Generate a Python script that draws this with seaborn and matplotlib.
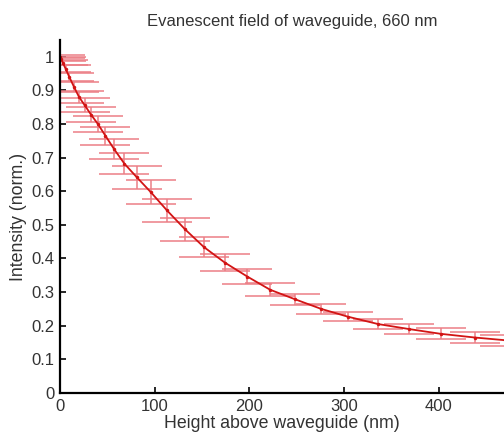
import matplotlib
matplotlib.use('Agg')
import matplotlib.pyplot as plt
import pandas as pd
import seaborn as sns

# Height above waveguide (nm), normalised intensity and error (half-width)
height = [0, 1, 3, 6, 10, 15, 20, 26, 33, 40, 48, 57, 68, 81, 96, 113, 132,
          152, 174, 198, 222, 248, 276, 304, 336, 369, 402, 438, 470]
intensity = [1.000, 0.994, 0.982, 0.964, 0.939, 0.909, 0.881, 0.856, 0.827,
             0.800, 0.765, 0.726, 0.682, 0.642, 0.597, 0.543, 0.487, 0.434,
             0.388, 0.346, 0.307, 0.279, 0.250, 0.227, 0.205, 0.190, 0.176,
             0.165, 0.157]
error = [0.005, 0.006, 0.008, 0.010, 0.012, 0.015, 0.018, 0.020, 0.022,
         0.025, 0.027, 0.030, 0.032, 0.034, 0.035, 0.035, 0.034, 0.030,
         0.026, 0.023, 0.020, 0.016, 0.014, 0.013, 0.015, 0.015, 0.016,
         0.016, 0.016]

xticks = [0, 100, 200, 300, 400]
yticks = [0, 0.1, 0.2, 0.3, 0.4, 0.5, 0.6, 0.7, 0.8, 0.9, 1]
ytick_labels = ['0', '0.1', '0.2', '0.3', '0.4', '0.5', '0.6', '0.7', '0.8', '0.9', '1']

df = pd.DataFrame({'height': height, 'intensity': intensity, 'error': error})

sns.set_style('ticks')
plt.rcParams['font.family'] = ['Liberation Sans', 'DejaVu Sans']

fig = plt.figure(figsize=(5.04, 4.37), dpi=100)
ax = fig.add_axes([0.119, 0.1007, 0.881, 0.808])

ax.errorbar(df['height'], df['intensity'], yerr=df['error'], fmt='none',
            ecolor='#ec7f86', elinewidth=1.1, capsize=18, capthick=1.1)
sns.lineplot(data=df, x='height', y='intensity', ax=ax, color='#d21414',
             linewidth=1.3, marker='o', markersize=2.5, markeredgewidth=0)

ax.set_xlim(0, 469)
ax.set_ylim(0, 1.05)
ax.set_xticks(xticks)
ax.set_xticklabels([str(t) for t in xticks])
ax.set_yticks(yticks)
ax.set_yticklabels(ytick_labels)

sns.despine(ax=ax)
for side in ['left', 'bottom']:
    ax.spines[side].set_linewidth(1.6)
    ax.spines[side].set_color('black')
ax.tick_params(direction='in', length=4, width=1.4, labelsize=12,
               labelcolor='#333333', pad=4)

ax.set_xlabel('Height above waveguide (nm)', fontsize=12.8, color='#333333', labelpad=1)
ax.set_ylabel('Intensity (norm.)', fontsize=12.8, color='#333333', labelpad=3)
ax.set_title('Evanescent field of waveguide, 660 nm', fontsize=12,
             color='#333333', x=0.523, pad=10)

fig.savefig('out.png', dpi=100)
